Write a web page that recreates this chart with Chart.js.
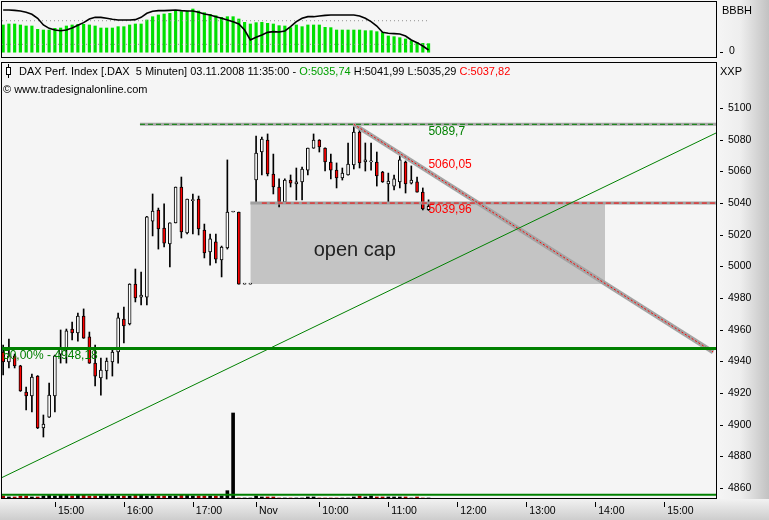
<!DOCTYPE html>
<html>
<head>
<meta charset="utf-8">
<script src="https://cdn.jsdelivr.net/npm/chart.js@4.4.1/dist/chart.umd.min.js"></script>
<style>
html, body { margin: 0; padding: 0; background: #f5f5f5; }
#wrap { position: relative; width: 769px; height: 520px; overflow: hidden; font-family: "Liberation Sans", Arial, sans-serif; }
#rstrip { position: absolute; left: 717px; top: 0; width: 52px; height: 520px; background: linear-gradient(to right, #f5f5f5 0%, #eeeeee 45%, #c2c2c2 100%); }
#bstrip { position: absolute; left: 0; top: 499px; width: 769px; height: 21px; background: linear-gradient(to bottom, #f2f2f2, #cdcdcd); }
canvas { position: absolute; left: 0; top: 0; }
.txt { position: absolute; white-space: pre; font-size: 11px; line-height: 13px; color: #000; }
#icon-wick { position: absolute; left: 8px; top: 64px; width: 1px; height: 14px; background: #000; }
#icon-body { position: absolute; left: 6px; top: 67px; width: 3px; height: 6px; border: 1px solid #000; background: #fff; }
</style>
</head>
<body>
<div id="wrap">
  <div id="rstrip"></div>
  <div id="bstrip"></div>
  <canvas id="osc" width="769" height="60"></canvas>
  <canvas id="main" width="769" height="520"></canvas>
  <div id="icon-wick"></div><div id="icon-body"></div>
  <div class="txt" style="left:19px; top:65px;">DAX Perf. Index [.DAX  5 Minuten] 03.11.2008 11:35:00 - <span style="color:#00a000">O:5035,74</span> H:5041,99 L:5035,29 <span style="color:#ff0000">C:5037,82</span></div>
  <div class="txt" style="left:3px; top:83px;">© www.tradesignalonline.com</div>
  <div class="txt" style="left:720px; top:65px;">XXP</div>
  <div class="txt" style="left:722px; top:4px;">BBBH</div>
  <div class="txt" id="osc-zero" style="left:729px; top:44px; font-size:10.5px;"></div>
</div>
<script>
// 5-minute bars, 31.10.2008 14:15 ... 03.11.2008 11:35 (index = bar slot)
const opens  = [4945.9,4939.6,4943.4,4937.1,4920.6,4918.1,4930.7,4897.9,4904.8,4918.1,
                4944.6,4948.4,4960.4,4957.9,4968.6,4955.4,4938.9,4929.5,4933.9,4939.6,
                4945.9,4966.7,4963.6,4988.8,4980.6,4980.6,5028.6,5035.6,5024.2,5014.1,
                5027.4,5050.1,5021.1,5041.5,5042.5,5022.9,5009.1,5015.4,5004.0,5011.6,
                5034.3,5034.3,4988.8,4988.8,5054.5,5072.2,5079.8,5058.3,5050.1,5040.6,
                5054.5,5052.0,5053.3,5060.8,5074.7,5079.8,5074.7,5065.9,5060.8,5055.8,
                5057.7,5064.0,5084.8,5065.9,5066.0,5065.9,5059.6,5052.0,5050.7,5053.3,
                5065.9,5052.6,5053.3,5046.9,5035.74];
const highs  = [4950.3,4954.1,4944.6,4937.5,4923.8,4932.0,4931.0,4906.1,4926.3,4944.0,
                4959.8,4960.4,4964.8,4970.5,4973.1,4958.5,4950.3,4942.1,4942.1,4948.4,
                4970.5,4974.3,4989.0,4998.3,4996.4,5031.5,5045.7,5036.8,5039.4,5027.4,
                5050.1,5056.4,5042.5,5045.7,5044.4,5026.7,5020.4,5020.4,5012.8,5067.2,
                5034.3,5034.3,4988.8,4988.8,5082.3,5081.7,5083.6,5070.9,5055.2,5055.2,
                5057.7,5062.1,5062.7,5074.7,5083.6,5080.0,5074.9,5070.9,5065.3,5062.1,
                5077.9,5089.7,5086.7,5077.9,5077.9,5072.2,5060.0,5058.9,5057.7,5072.2,
                5066.5,5063.4,5056.4,5049.5,5041.99];
const lows   = [4931.4,4935.8,4935.8,4921.0,4909.3,4908.0,4897.5,4892.2,4904.5,4908.0,
                4938.9,4938.9,4953.5,4952.8,4954.5,4938.7,4924.4,4918.7,4928.8,4930.7,
                4938.9,4951.6,4963.0,4977.5,4975.6,4975.6,5019.2,5010.9,5012.2,4999.6,
                5027.4,5017.9,5020.4,5020.4,5019.8,5005.3,5000.8,5002.1,4993.3,5010.9,
                5034.3,4988.8,4988.8,4988.8,5040.6,5057.7,5057.1,5045.7,5037.5,5040.4,
                5050.1,5041.9,5041.9,5057.7,5074.5,5072.2,5060.2,5055.2,5049.5,5054.5,
                5057.5,5061.5,5062.1,5060.2,5060.8,5050.7,5053.0,5040.6,5048.2,5049.5,
                5046.3,5052.0,5046.9,5035.6,5035.29];
const closes = [4939.6,4943.4,4937.1,4921.3,4918.1,4930.1,4897.9,4900.4,4918.7,4943.4,
                4948.4,4959.2,4957.9,4968.6,4954.7,4938.9,4930.7,4934.5,4940.2,4945.9,
                4967.4,4962.3,4988.8,4980.0,4981.9,5031.2,5034.9,5023.6,5014.7,5027.4,
                5050.1,5021.7,5042.5,5042.0,5023.6,5008.4,5017.3,5004.6,5012.2,5034.3,
                5034.3,4988.8,4988.8,4988.8,5071.6,5080.4,5058.3,5050.1,5040.6,5054.5,
                5052.6,5053.3,5061.5,5074.7,5079.8,5075.4,5065.9,5060.8,5055.8,5058.9,
                5064.6,5084.8,5065.3,5067.2,5066.6,5057.1,5053.3,5053.9,5055.2,5067.2,
                5052.0,5054.5,5046.9,5036.2,5037.82];
const volumes = [23,12,12,23,23,12,12,23,35,23,35,35,23,35,35,23,23,23,35,23,
                 23,23,23,35,35,23,23,23,23,23,23,35,35,23,23,23,23,23,23,84,
                 977,0,0,0,23,12,12,12,0,0,0,0,0,12,12,0,0,0,0,0,
                 0,12,23,12,23,12,12,12,12,12,12,0,12,0,0];

// BBBH oscillator (top panel)
const oscBars = [69.2,71.7,71.7,69.2,66.6,66.6,58.1,56.4,56.4,60.7,
                 61.5,66.6,69.2,70.8,70.8,69.2,66.6,61.5,61.5,61.5,
                 64.9,64.9,69.2,71.7,71.7,81.9,90.3,94.6,97.1,98.8,
                 104.7,103.1,104.7,109.8,104.7,100.5,96.3,92.9,88.6,90.3,
                 90.3,84.4,75.9,71.7,75.1,75.9,73.4,71.7,67.5,66.6,
                 62.4,69.2,64.9,69.2,69.2,69.2,63.2,62.4,56.4,56.4,
                 56.4,56.4,56.4,54.7,54.7,52.2,49.7,41.2,39.5,36.9,
                 33.6,29.3,25.1,22.5,21.7];
const oscLine = [107.3,107.3,106.4,104.7,101.4,96.3,86.1,69.2,60.7,56.4,
                 54.7,56.4,61.5,68.3,75.1,84.4,88.6,88.6,86.1,83.6,
                 81.9,81.9,81.9,82.7,88.6,98.8,103.9,105.6,105.6,106.4,
                 107.3,105.6,104.7,104.7,101.4,97.1,94.6,90.3,86.1,81.9,
                 77.6,71.7,56.4,31.0,37.8,43.7,50.5,52.2,51.4,53.9,
                 64.9,77.6,86.1,90.3,90.3,92.0,93.7,94.6,94.6,94.6,
                 94.6,94.6,92.0,86.1,77.6,66.6,50.5,48.0,47.1,46.3,
                 41.2,31.0,24.2,15.8,5.6];
const oscLevels = [20, 80];
const oscTicks = [0];

const timeTicks  = [9, 21, 33, 44, 55, 67, 79, 91, 103, 115];
const timeLabels = ['15:00', '16:00', '17:00', 'Nov', '10:00', '11:00', '12:00', '13:00', '14:00', '15:00'];
const priceTicks = [4860, 4880, 4900, 4920, 4940, 4960, 4980, 5000, 5020, 5040, 5060, 5080, 5100];

// drawing tools (value levels and trend line anchors)
const resistance = 5089.7;
const support = 5039.96;
const fibLevel = 4948.18;
const baseLevel = 4855.7;
const gapLow = 4988.8, gapHigh = 5040.0;
const downTrend = [[61, 5089.7], [123.5, 4945.9]];
const upTrend = [[-0.2, 4866.6], [124, 5084.2]];

const X_MIN = -0.2, X_MAX = 124;
const fmt = v => String(v).replace('.', ',');
const seg = (a, b, v) => [{x: a, y: v}, {x: b, y: v}];
const pts = arr => arr.map(p => ({x: p[0], y: p[1]}));
const isUp = i => closes[i] >= opens[i];

Chart.defaults.font.family = '"Liberation Sans", Arial, sans-serif';
Chart.defaults.font.size = 10.5;
Chart.defaults.color = '#000';

function lineDs(data, color, width, order, extra) {
    return Object.assign({
        type: 'line', data: data, borderColor: color, borderWidth: width,
        pointRadius: 0, pointHoverRadius: 0, fill: false, tension: 0, borderCapStyle: 'butt', order: order
    }, extra || {});
}

// frame + small tick dashes, shared by both panels
const frame = {
    id: 'frame',
    afterDraw(chart, args, opts) {
        const {ctx, chartArea: a} = chart;
        const y = chart.scales.y;
        ctx.save();
        ctx.strokeStyle = '#000';
        ctx.lineWidth = 1;
        ctx.strokeRect(a.left - 0.5, a.top - 0.5, a.right - a.left + 1, a.bottom - a.top + 1);
        ctx.beginPath();
        y.ticks.forEach(t => {
            const py = Math.round(y.getPixelForValue(t.value)) + 0.5;
            ctx.moveTo(a.right + 4, py); ctx.lineTo(a.right + 7, py);
        });
        if (opts.timeMarks) {
            const x = chart.scales.x;
            timeTicks.forEach(v => {
                const px = Math.round(x.getPixelForValue(v)) + 0.5;
                ctx.moveTo(px, a.bottom + 4); ctx.lineTo(px, a.bottom + 9);
            });
        }
        ctx.stroke();
        ctx.restore();
    }
};

// text notes placed on the price scale
const notes = [
    {x: 73.8, y: resistance, dy: 7, text: fmt(resistance), color: '#008000'},
    {x: 73.8, y: 5060.05, dy: -7, text: fmt(5060.05), color: '#ff0000'},
    {x: 73.8, y: support, dy: 7, text: fmt(support), color: '#ff0000'},
    {x: X_MIN, y: fibLevel, dy: 7, text: '50,00% - ' + fmt(fibLevel), color: '#008000'},
    {x: 61.0, y: 5009.7, dy: 0, text: 'open cap', color: '#222', size: 20, align: 'center'}
];
const noteText = {
    id: 'noteText',
    afterDatasetsDraw(chart) {
        const {ctx, scales: {x, y}} = chart;
        ctx.save();
        notes.forEach(n => {
            ctx.font = (n.size || 12) + 'px "Liberation Sans", Arial, sans-serif';
            ctx.fillStyle = n.color;
            ctx.textAlign = n.align || 'left';
            ctx.textBaseline = 'middle';
            ctx.fillText(n.text, x.getPixelForValue(n.x) + 1, y.getPixelForValue(n.y) + n.dy);
        });
        ctx.restore();
    }
};

const idx = opens.map((_, i) => i);

new Chart(document.getElementById('main'), {
    type: 'bar',
    data: {
        datasets: [
            lineDs(pts(upTrend), '#008000', 1, 1),
            lineDs(seg(X_MIN, X_MAX, fibLevel), '#008000', 3, 1),
            lineDs(seg(X_MIN, X_MAX, baseLevel), '#008000', 2, 1),
            lineDs(seg(23.8, X_MAX, resistance), '#008000', 1, 2, {borderDash: [5, 3]}),
            lineDs(seg(45, X_MAX, support), '#ff0000', 1, 2, {borderDash: [5, 3]}),
            lineDs(pts(downTrend), '#ff0000', 1, 2, {borderDash: [2, 2]}),
            lineDs(seg(23.8, X_MAX, resistance), '#a8a8a8', 3, 3),
            lineDs(seg(43, X_MAX, support), '#a0a0a0', 3, 3),
            lineDs(pts(downTrend), '#a4a4a4', 4.5, 3),
            {
                data: idx.map(i => ({x: i, y: [opens[i], closes[i]]})),
                backgroundColor: ctx => isUp(ctx.dataIndex) ? '#ffffff' : '#ff0000',
                borderColor: '#000', borderWidth: 1, borderSkipped: false,
                barThickness: 3, minBarLength: 1, grouped: false, order: 4
            },
            {
                data: idx.map(i => ({x: i, y: [lows[i], highs[i]]})),
                backgroundColor: '#000', borderWidth: 0,
                barThickness: 1, grouped: false, order: 5
            },
            {
                data: idx.map(i => ({x: i, y: volumes[i]})),
                yAxisID: 'yVol',
                backgroundColor: ctx => isUp(ctx.dataIndex) ? '#000' : '#a00000',
                borderWidth: 0, barThickness: 3, grouped: false, order: 6
            },
            lineDs(seg(43, 104.7, gapHigh), 'rgba(0,0,0,0)', 0, 10,
                {fill: {value: gapLow}, backgroundColor: '#c4c4c4'})
        ]
    },
    options: {
        responsive: false,
        animation: false,
        layout: {padding: {left: 2, top: 63, right: 0, bottom: 0}},
        plugins: {legend: {display: false}, tooltip: {enabled: false}, frame: {timeMarks: true}},
        scales: {
            x: {
                type: 'linear', min: X_MIN, max: X_MAX, offset: false,
                grid: {display: false, offset: false, drawTicks: false},
                border: {display: false},
                afterBuildTicks: s => { s.ticks = timeTicks.map(v => ({value: v})); },
                ticks: {
                    autoSkip: false, maxRotation: 0, align: 'start', labelOffset: 3, padding: 7,
                    callback: v => timeLabels[timeTicks.indexOf(v)]
                },
                afterFit: s => { s.height = 22; }
            },
            y: {
                position: 'right', min: 4853.68, max: 5128.42,
                grid: {display: false, drawTicks: false},
                border: {display: false},
                afterBuildTicks: s => { s.ticks = priceTicks.map(v => ({value: v})); },
                ticks: {padding: 12, callback: v => String(v)},
                afterFit: s => { s.width = 53; }
            },
            yVol: {display: false, min: 0, max: 5000}
        }
    },
    plugins: [frame, noteText]
});

new Chart(document.getElementById('osc'), {
    type: 'bar',
    data: {
        datasets: [
            lineDs(idx.map(i => ({x: i, y: oscLine[i]})), '#000', 1.6, 1),
            lineDs(seg(X_MIN, 73.8, oscLevels[0]), '#909090', 1, 2, {borderDash: [1, 3]}),
            lineDs(seg(X_MIN, 73.8, oscLevels[1]), '#909090', 1, 2, {borderDash: [1, 3]}),
            {
                data: idx.map(i => ({x: i, y: oscBars[i]})),
                backgroundColor: '#00e000', borderWidth: 0,
                barThickness: 2.5, grouped: false, order: 3
            }
        ]
    },
    options: {
        responsive: false,
        animation: false,
        layout: {padding: {left: 2, top: 2, right: 0, bottom: 3}, autoPadding: false},
        plugins: {legend: {display: false}, tooltip: {enabled: false}, frame: {timeMarks: false}},
        scales: {
            x: {type: 'linear', min: X_MIN, max: X_MAX, offset: false, display: false, grid: {offset: false}},
            y: {
                position: 'right', min: -12.2, max: 127.6,
                grid: {display: false, drawTicks: false},
                border: {display: false},
                afterBuildTicks: s => { s.ticks = oscTicks.map(v => ({value: v})); },
                ticks: {display: false},
                afterFit: s => { s.width = 53; }
            }
        }
    },
    plugins: [frame]
});

// the one tick label of the oscillator panel
document.getElementById('osc-zero').textContent = String(oscTicks[0]);
</script>
</body>
</html>
